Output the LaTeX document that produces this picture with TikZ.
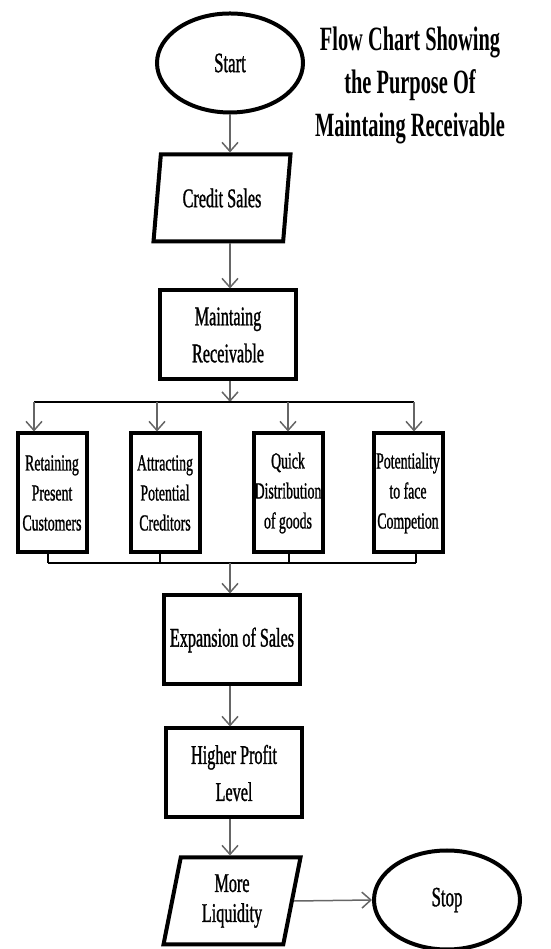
\documentclass[tikz,border=0pt]{standalone}
\usepackage{fontspec}
\setmainfont{Liberation Serif}[FakeStretch=0.6]
\newfontfamily\boxfont{Liberation Serif}[FakeStretch=0.6, FakeBold=1]
\usetikzlibrary{shapes.geometric,arrows.meta}

\tikzset{
  box/.style={draw, line width=4pt, minimum width=136pt, minimum height=89pt, align=center, font=\boxfont\fontsize{27}{37}\selectfont},
  smallbox/.style={draw, line width=4pt, minimum width=69pt, minimum height=119pt, inner sep=1pt, align=center, font=\boxfont\fontsize{23}{30}\selectfont},
  io/.style={draw, line width=4pt, trapezium, trapezium left angle=74, trapezium right angle=106, trapezium stretches body, minimum width=137pt, minimum height=87pt, align=center, font=\boxfont\fontsize{27}{30}\selectfont},
  term/.style={draw, line width=4pt, ellipse, minimum width=146pt, minimum height=99pt, font=\boxfont\fontsize{28}{30}\selectfont},
  arr/.style={draw=black!60, line width=1.5pt, -{Straight Barb[length=9pt,width=16pt]}},
  bus/.style={line width=2pt},
}

\begin{document}
\begin{tikzpicture}[x=1pt,y=1pt]
\useasboundingbox (0,0) rectangle (550,949);

\node[term] (start) at (230,886) {Start};
\node[font=\bfseries\fontsize{34}{43}\selectfont, align=center] (title) at (410,864) {Flow Chart Showing\\the Purpose Of\\Maintaing Receivable};

\node[io] (credit) at (222,751) {Credit Sales};
\node[box] (recv) at (228,614) {Maintaing\\Receivable};

\node[smallbox] (b1) at (52,456) {Retaining\\Present\\Customers};
\node[smallbox] (b2) at (165,456) {Attracting\\Potential\\Creditors};
\node[smallbox] (b3) at (288,456) {Quick\\Distribution\\of goods};
\node[smallbox] (b4) at (408,456) {Potentiality\\to face\\Competion};

\node[box] (sales) at (232,309) {Expansion of Sales};
\node[box] (profit) at (234,176) {Higher Profit\\Level};
\node[io] (liq) at (232,48) {More\\Liquidity};
\node[term] (stop) at (447,49) {Stop};

% split line above the four boxes
\coordinate (s1) at (34,547);
\coordinate (s2) at (157,547);
\coordinate (s3) at (288,547);
\coordinate (s4) at (414,547);
% join line below them
\coordinate (j1) at (48,386);
\coordinate (j2) at (160,386);
\coordinate (j3) at (289,386);
\coordinate (j4) at (416,386);

\draw[arr] (start.south) -- (start.south |- credit.north);
\draw[arr] (credit.south -| start) -- (recv.north -| start);
\draw[arr] (recv.south -| start) -- (s1 -| start);
\draw[bus] (s1) -- (s4);
\foreach \i in {1,...,4}
  \draw[arr] (s\i) -- (s\i |- b\i.north);
\foreach \i in {1,...,4}
  \draw[bus] (j\i |- b\i.south) -- (j\i);
\draw[bus] (j1) -- (j4);
\draw[arr] (j1 -| start) -- (sales.north -| start);
\draw[arr] (sales.south -| start) -- (profit.north -| start);
\draw[arr] (profit.south -| start) -- (liq.north -| start);
\draw[arr] (liq.east) -- (stop.west);
\end{tikzpicture}
\end{document}
